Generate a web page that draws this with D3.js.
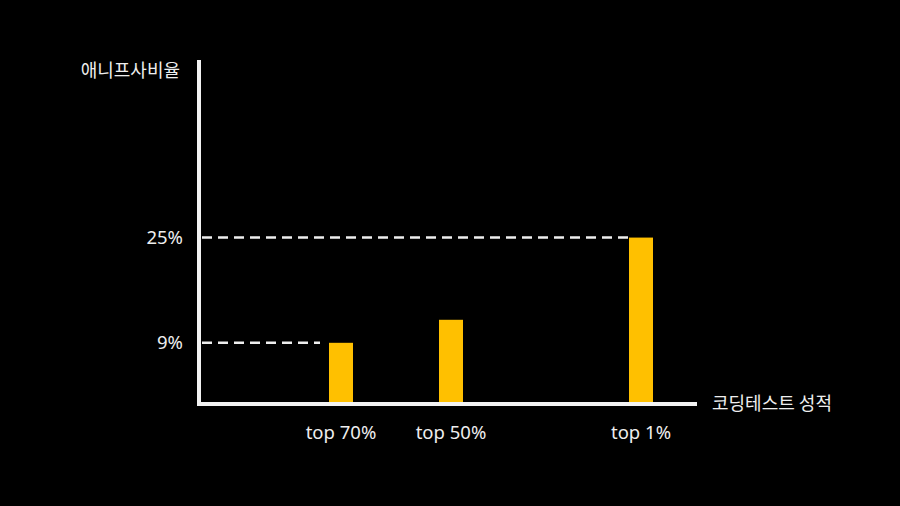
<!DOCTYPE html>
<html><head><meta charset="utf-8">
<script src="https://cdn.jsdelivr.net/npm/d3@7"></script>
<style>
html,body{margin:0;padding:0;background:#000;}
svg{display:block;}
text{font-family:"Noto Sans CJK KR","Noto Sans",sans-serif;fill:#eeeeee;}
text.latin{font-family:"Noto Sans","Open Sans",sans-serif;}
</style></head>
<body>
<script>
const categories = ["top 70%", "top 50%", "top 1%"];
const values = [9, 12.5, 25];
const refTicks = [9, 25];
const tickLabels = ["9%", "25%"];
const yTitle = "애니프사비율";
const xTitle = "코딩테스트 성적";

const W = 900, H = 506;
const svg = d3.select("body").append("svg").attr("width", W).attr("height", H);

const y = d3.scaleLinear().domain([0, 52]).range([402, 60]);
const x = d3.scaleOrdinal().domain(categories).range([341, 451, 641]);
const barW = 24;
const axisX = 199, axisY = 404;

// dashed reference lines
svg.selectAll("line.ref").data(refTicks).join("line")
  .attr("x1", axisX + 3)
  .attr("x2", (d) => x(categories[values.indexOf(d)]) - barW / 2 - (d === 9 ? 9 : 0))
  .attr("y1", d => y(d)).attr("y2", d => y(d))
  .attr("stroke", "#eeeeee").attr("stroke-width", 2.5).attr("stroke-dasharray", "10,6");

// bars
svg.selectAll("rect.bar").data(values).join("rect")
  .attr("x", (d, i) => x(categories[i]) - barW / 2)
  .attr("width", barW)
  .attr("y", d => y(d))
  .attr("height", d => y(0) - y(d))
  .attr("fill", "#FFC000");

// axes lines
svg.append("line").attr("x1", axisX).attr("x2", axisX).attr("y1", 60).attr("y2", axisY + 2)
  .attr("stroke", "#f2f2f2").attr("stroke-width", 4);
svg.append("line").attr("x1", axisX - 2).attr("x2", 697).attr("y1", axisY).attr("y2", axisY)
  .attr("stroke", "#f2f2f2").attr("stroke-width", 4);

// tick labels
svg.selectAll("text.ytick").data(refTicks).join("text")
  .attr("class", "latin")
  .attr("x", 183).attr("y", d => y(d)).attr("dy", "0.35em")
  .attr("text-anchor", "end").attr("font-size", 18.5)
  .text((d, i) => tickLabels[i]);

svg.selectAll("text.xtick").data(categories).join("text")
  .attr("class", "latin")
  .attr("x", d => x(d)).attr("y", 433).attr("dy", "0.35em")
  .attr("text-anchor", "middle").attr("font-size", 18.5)
  .text(d => d);

svg.append("text").attr("x", 180).attr("y", 71).attr("dy", "0.35em")
  .attr("text-anchor", "end").attr("font-size", 18).text(yTitle);
svg.append("text").attr("x", 712).attr("y", 404).attr("dy", "0.35em")
  .attr("text-anchor", "start").attr("font-size", 18).text(xTitle);
</script>
</body></html>
